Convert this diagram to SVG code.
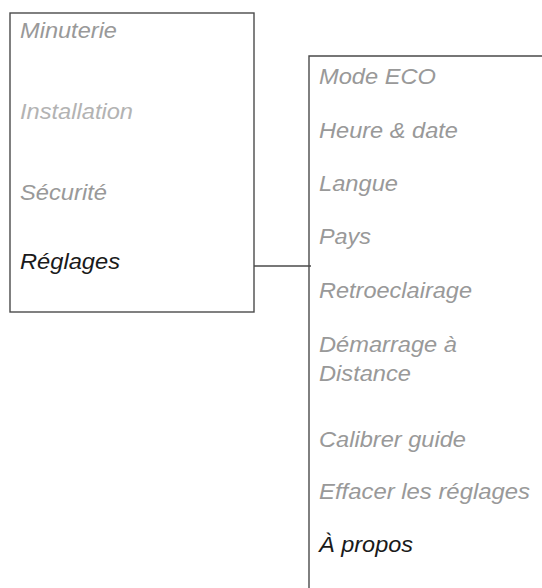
<svg xmlns="http://www.w3.org/2000/svg" width="542" height="588" viewBox="0 0 542 588">
<style>
.box{fill:none;stroke:#4a4a4a;stroke-width:1.4}
.con{fill:none;stroke:#4a4a4a;stroke-width:1.4}
text{font-family:"Liberation Sans",Arial,sans-serif;font-style:italic;font-size:21.5px}
.g{fill:#999999}
.l{fill:#b3b3b3}
.k{fill:#1a1a1a}
</style>
<rect width="542" height="588" fill="#ffffff"/>
<g id="menu-main">
<rect class="box" x="10" y="13" width="244" height="299"/>
<text class="g" x="20" y="38" textLength="97" lengthAdjust="spacingAndGlyphs">Minuterie</text>
<text class="l" x="20" y="119" textLength="113" lengthAdjust="spacingAndGlyphs">Installation</text>
<text class="g" x="20" y="200" textLength="87" lengthAdjust="spacingAndGlyphs">Sécurité</text>
<text class="k" x="20" y="269" textLength="100" lengthAdjust="spacingAndGlyphs">Réglages</text>
</g>
<g id="menu-reglages">
<path class="box" d="M542,56 H309 V588"/>
<text class="g" x="319" y="84" textLength="117" lengthAdjust="spacingAndGlyphs">Mode ECO</text>
<text class="g" x="319" y="138" textLength="139" lengthAdjust="spacingAndGlyphs">Heure &amp; date</text>
<text class="g" x="319" y="191" textLength="79" lengthAdjust="spacingAndGlyphs">Langue</text>
<text class="g" x="319" y="244" textLength="52" lengthAdjust="spacingAndGlyphs">Pays</text>
<text class="g" x="319" y="298" textLength="153" lengthAdjust="spacingAndGlyphs">Retroeclairage</text>
<text class="g" x="319" y="352" textLength="138" lengthAdjust="spacingAndGlyphs">Démarrage à</text>
<text class="g" x="319" y="381" textLength="92" lengthAdjust="spacingAndGlyphs">Distance</text>
<text class="g" x="319" y="447" textLength="147" lengthAdjust="spacingAndGlyphs">Calibrer guide</text>
<text class="g" x="319" y="499" textLength="211" lengthAdjust="spacingAndGlyphs">Effacer les réglages</text>
<text class="k" x="319" y="552" textLength="94" lengthAdjust="spacingAndGlyphs">À propos</text>
</g>
<g id="connectors">
<path class="con" d="M254,266 H311"/>
</g>
</svg>
